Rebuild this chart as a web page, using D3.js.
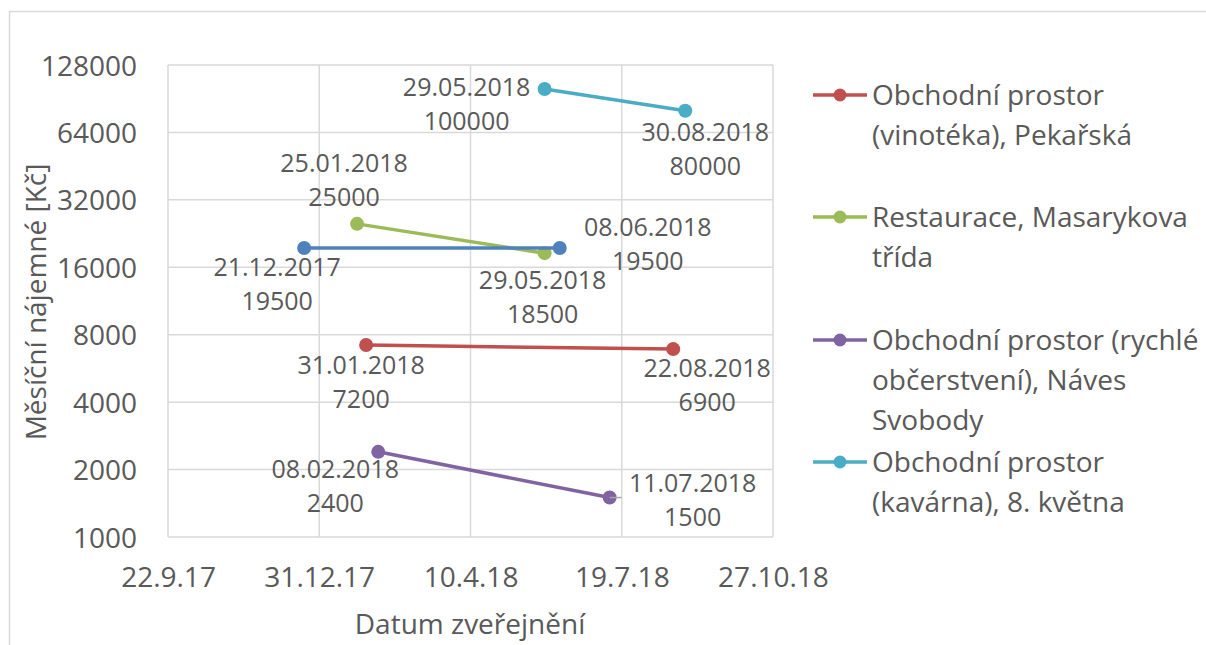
<!DOCTYPE html>
<html>
<head>
<meta charset="utf-8">
<script src="https://cdn.jsdelivr.net/npm/d3@7"></script>
<style>
  body { margin: 0; background: #fff; }
  text { font-family: "Open Sans", Lato, sans-serif; fill: #595959; }
</style>
</head>
<body>
<div id="chart"></div>
<script>
// Data - one array per property
const seriesNames = [
  "Obchodní prostor (vinotéka), Pekařská",
  "Restaurace, Masarykova třída",
  "Obchodní prostor (rychlé občerstvení), Náves Svobody",
  "Obchodní prostor (kavárna), 8. května",
  "" // blue series, no legend entry
];
const seriesDates = [
  ["2018-01-31", "2018-08-22"],
  ["2018-01-25", "2018-05-29"],
  ["2018-02-08", "2018-07-11"],
  ["2018-05-29", "2018-08-30"],
  ["2017-12-21", "2018-06-08"]
];
const seriesValues = [
  [7200, 6900],
  [25000, 18500],
  [2400, 1500],
  [100000, 80000],
  [19500, 19500]
];
const yTicks = [1000, 2000, 4000, 8000, 16000, 32000, 64000, 128000];
const xTickDates = ["2017-09-22", "2017-12-31", "2018-04-10", "2018-07-19", "2018-10-27"];

// styling / layout
const colors = ["#C0504D", "#9BBB59", "#8064A2", "#4BACC6", "#4F81BD"];
const legendLines = [
  ["Obchodní prostor", "(vinotéka), Pekařská"],
  ["Restaurace, Masarykova", "třída"],
  ["Obchodní prostor (rychlé", "občerstvení), Náves", "Svobody"],
  ["Obchodní prostor", "(kavárna), 8. května"]
];
const legendY = [95, 217, 340, 462];
// label offsets [dx, dy of first line] relative to the point
const labelOffsets = [
  [[-5, 20], [34, 19]],
  [[-13, -61], [-2, 27]],
  [[-43, 17], [83, -15]],
  [[-78, -2], [20, 21]],
  [[-27, 19], [88, -21]]
];
const fontSize = "28px";
const labelSize = "25px";

const W = 1206, H = 645;
const plot = { left: 168, right: 773, top: 65, bottom: 537 };

const parse = d3.timeParse("%Y-%m-%d");
const fmtLabel = d3.timeFormat("%d.%m.%Y");
const fmtTick = d => `${d.getDate()}.${d.getMonth() + 1}.${String(d.getFullYear()).slice(2)}`;

const svg = d3.select("#chart").append("svg")
  .attr("width", W).attr("height", H);

// outer chart border (only top/left visible in the crop)
svg.append("rect")
  .attr("x", 9.5).attr("y", 11.5)
  .attr("width", W).attr("height", H)
  .attr("fill", "none").attr("stroke", "#d9d9d9").attr("stroke-width", 1.5);

const x = d3.scaleTime()
  .domain([parse(xTickDates[0]), parse(xTickDates[xTickDates.length - 1])])
  .range([plot.left, plot.right]);

const y = d3.scaleLog().base(2)
  .domain([1000, 128000])
  .range([plot.bottom, plot.top]);

// gridlines
const grid = svg.append("g");
grid.selectAll(".hg").data(yTicks).join("line")
  .attr("x1", plot.left).attr("x2", plot.right)
  .attr("y1", d => y(d)).attr("y2", d => y(d))
  .attr("stroke", "#d9d9d9").attr("stroke-width", 1.5);
grid.selectAll(".vg").data(xTickDates.map(parse)).join("line")
  .attr("x1", d => x(d)).attr("x2", d => x(d))
  .attr("y1", plot.top).attr("y2", plot.bottom)
  .attr("stroke", "#d9d9d9").attr("stroke-width", 1.5);

// y axis labels
const yAxis = d3.axisLeft(y).tickValues(yTicks).tickFormat(d3.format("d")).tickSize(0).tickPadding(31);
svg.append("g").attr("transform", `translate(${plot.left},0)`).call(yAxis)
  .call(g => g.select(".domain").remove())
  .selectAll("text").style("font-size", fontSize).attr("fill", "#595959").attr("dy", "0.36em");

// x axis labels
const xAxis = d3.axisBottom(x).tickValues(xTickDates.map(parse)).tickFormat(fmtTick).tickSize(0).tickPadding(30);
svg.append("g").attr("transform", `translate(0,${plot.bottom})`).call(xAxis)
  .call(g => g.select(".domain").remove())
  .selectAll("text").style("font-size", fontSize).attr("fill", "#595959");

// axis titles
svg.append("text")
  .attr("transform", `translate(36,302) rotate(-90)`)
  .attr("text-anchor", "middle").attr("dy", "0.36em")
  .style("font-size", fontSize).text("Měsíční nájemné [Kč]");
svg.append("text")
  .attr("x", 470).attr("y", 624)
  .attr("text-anchor", "middle").attr("dy", "0.36em")
  .style("font-size", fontSize).text("Datum zveřejnění");

// series lines, markers, labels
const line = d3.line().x(d => x(d.date)).y(d => y(d.value));
seriesNames.forEach((name, i) => {
  const pts = seriesDates[i].map((d, j) => ({ date: parse(d), value: seriesValues[i][j], off: labelOffsets[i][j] }));
  const g = svg.append("g");
  g.append("path").datum(pts).attr("d", line)
    .attr("fill", "none").attr("stroke", colors[i]).attr("stroke-width", 3.5);
  g.selectAll("circle").data(pts).join("circle")
    .attr("cx", d => x(d.date)).attr("cy", d => y(d.value)).attr("r", 7)
    .attr("fill", colors[i]);
  const lbl = g.selectAll("text").data(pts).join("text")
    .attr("text-anchor", "middle")
    .style("font-size", labelSize)
    .attr("transform", d => `translate(${x(d.date) + d.off[0]},${y(d.value) + d.off[1]})`);
  lbl.append("tspan").attr("x", 0).attr("dy", "0.36em").text(d => fmtLabel(d.date));
  lbl.append("tspan").attr("x", 0).attr("dy", 34).text(d => d.value);
});

// leader line for the 11.07.2018 label
{
  const px = x(parse(seriesDates[2][1])), py = y(seriesValues[2][1]);
  svg.append("line").attr("x1", px).attr("x2", px + 12).attr("y1", py).attr("y2", py)
    .attr("stroke", "#a6a6a6").attr("stroke-width", 1.5);
}

// legend
const legend = svg.append("g");
legendLines.forEach((lines, i) => {
  const ly = legendY[i];
  legend.append("line").attr("x1", 813).attr("x2", 867).attr("y1", ly).attr("y2", ly)
    .attr("stroke", colors[i]).attr("stroke-width", 3.5);
  legend.append("circle").attr("cx", 840).attr("cy", ly).attr("r", 6.5).attr("fill", colors[i]);
  const t = legend.append("text").attr("x", 872).attr("y", ly).style("font-size", fontSize);
  lines.forEach((s, k) => t.append("tspan").attr("x", 872).attr("dy", k === 0 ? "0.36em" : 40).text(s));
});
</script>
</body>
</html>
